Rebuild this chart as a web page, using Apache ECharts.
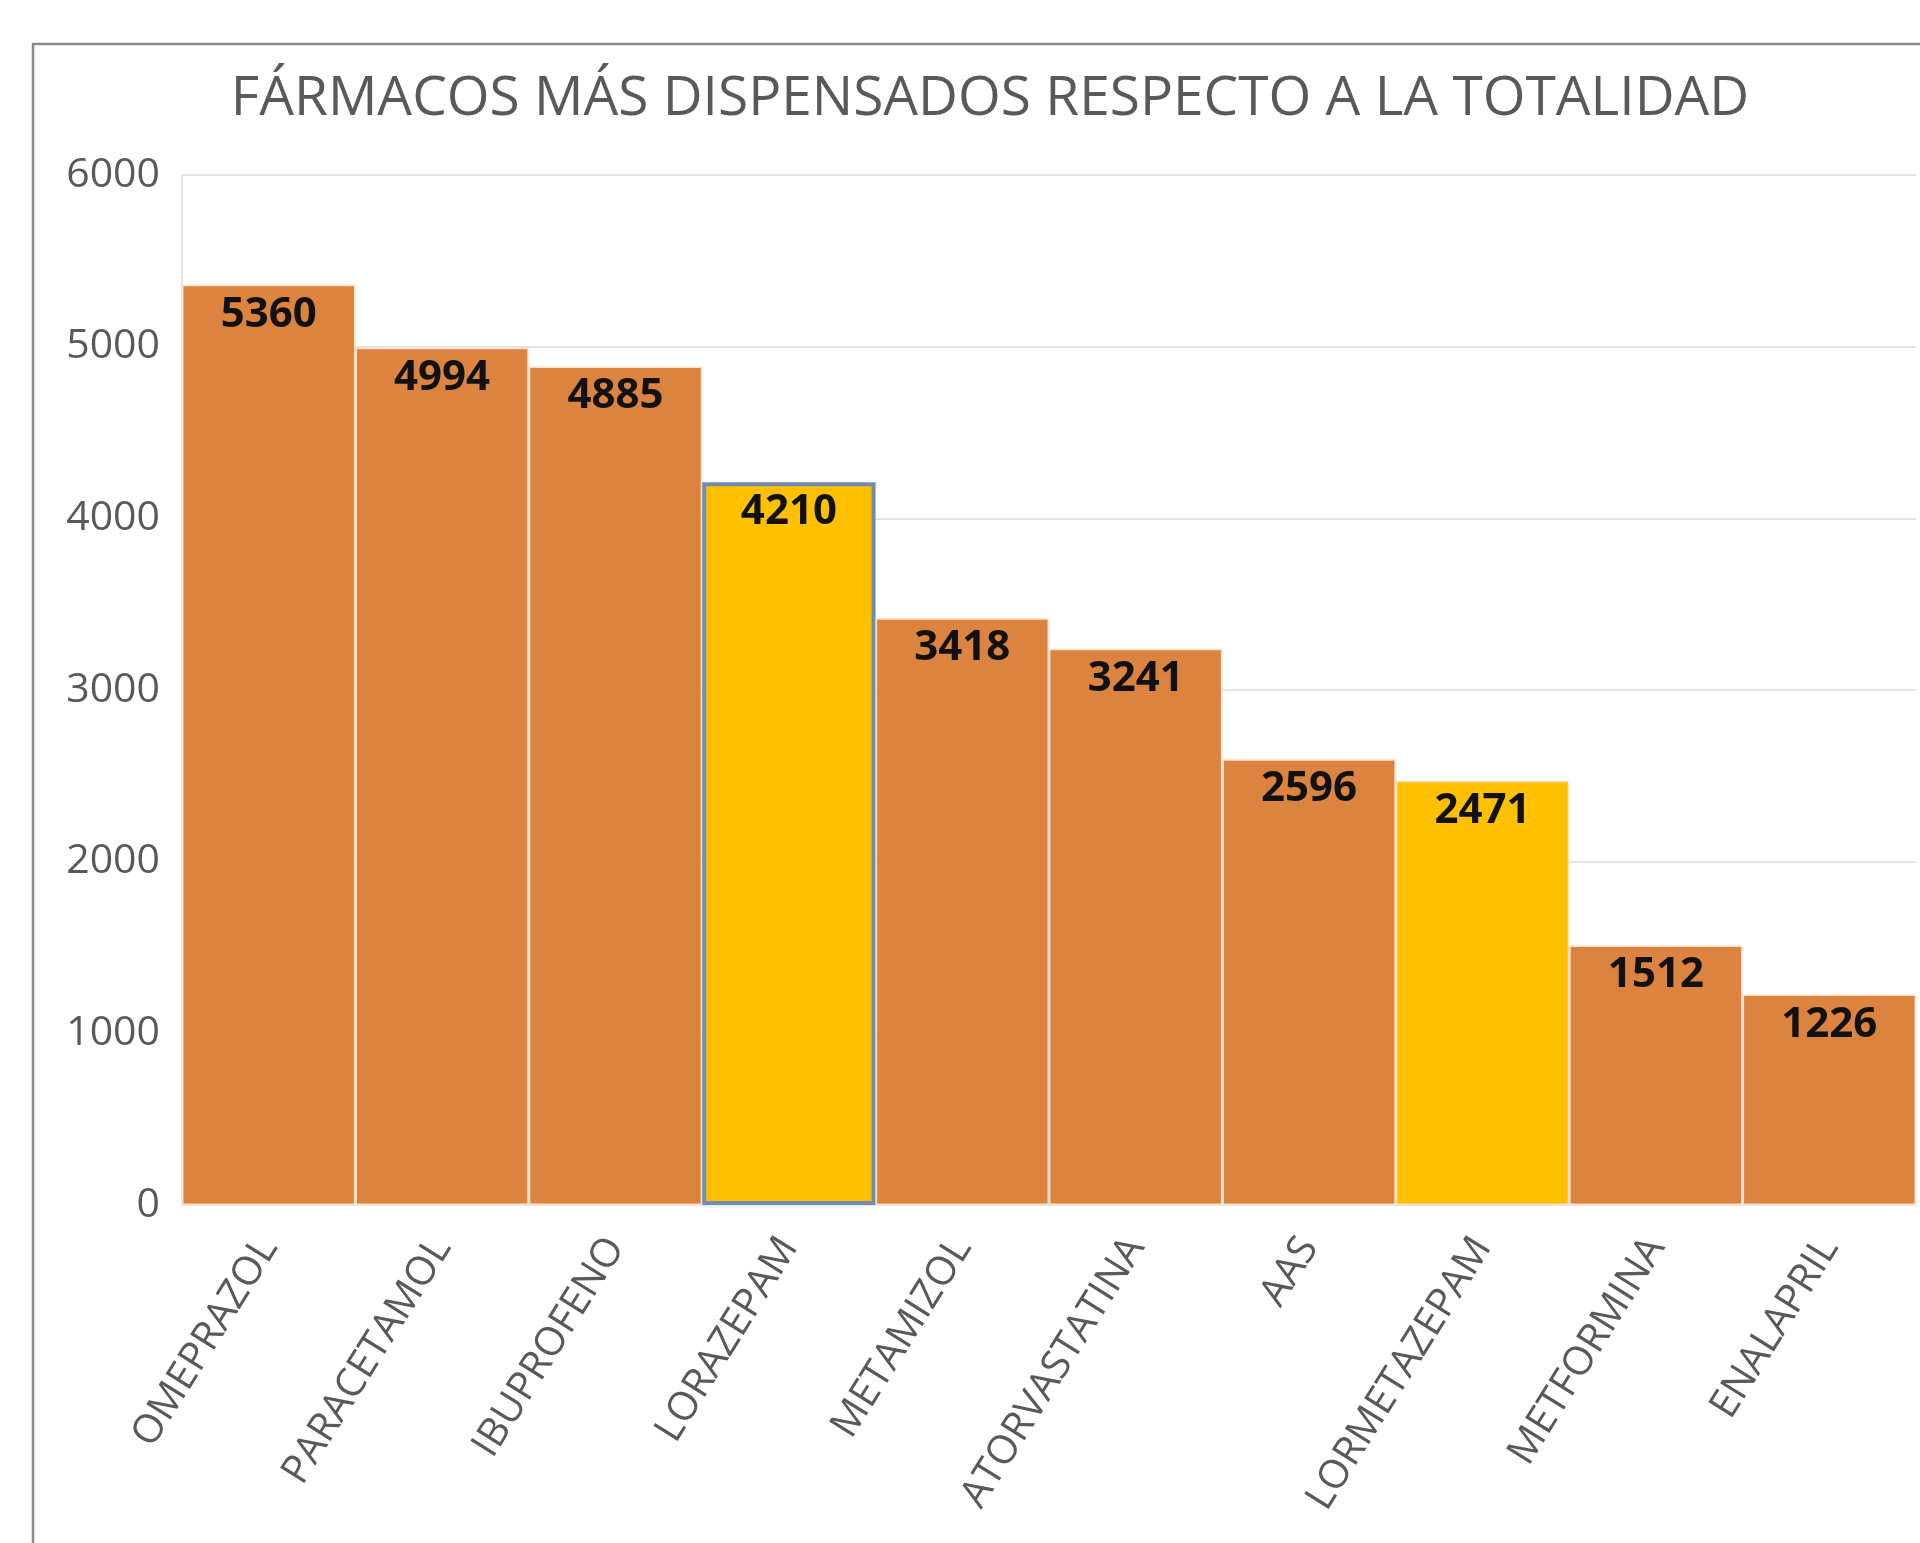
<!DOCTYPE html>
<html>
<head>
<meta charset="utf-8">
<script src="https://cdn.jsdelivr.net/npm/echarts@6/dist/echarts.min.js"></script>
<style>
html,body{margin:0;padding:0;background:#fff;}
#chart{width:1920px;height:1543px;}
</style>
</head>
<body>
<div id="chart"></div>
<script>
const titleText = 'FÁRMACOS MÁS DISPENSADOS RESPECTO A LA TOTALIDAD';
const categories = ['OMEPRAZOL','PARACETAMOL','IBUPROFENO','LORAZEPAM','METAMIZOL','ATORVASTATINA','AAS','LORMETAZEPAM','METFORMINA','ENALAPRIL'];
const values = [5360,4994,4885,4210,3418,3241,2596,2471,1512,1226];
const highlighted = ['LORAZEPAM','LORMETAZEPAM'];
const outlined = ['LORAZEPAM'];

const ORANGE = '#DC843F';
const YELLOW = '#FFC000';

const data = values.map((v, i) => {
  const name = categories[i];
  const hi = highlighted.includes(name);
  const out = outlined.includes(name);
  return {
    value: v,
    itemStyle: {
      color: hi ? YELLOW : ORANGE,
      borderColor: out ? '#6F8DB3' : '#FBE0CA',
      borderWidth: out ? 4 : 1.5
    }
  };
});

const chart = echarts.init(document.getElementById('chart'), null, {renderer: 'canvas'});
chart.setOption({
  backgroundColor: '#ffffff',
  animation: false,
  title: {
    text: titleText,
    left: 985,
    textAlign: 'center',
    top: 67,
    textStyle: {
      fontFamily: 'Open Sans',
      fontSize: 55,
      fontWeight: 'normal',
      color: '#595959'
    }
  },
  graphic: [{
    type: 'rect',
    z: -10,
    silent: true,
    shape: {x: 33, y: 44, width: 1920, height: 1600},
    style: {fill: 'none', stroke: '#8A8A8A', lineWidth: 2.5}
  }],
  grid: {left: 182, right: 4, top: 175, bottom: 338, containLabel: false},
  xAxis: {
    type: 'category',
    data: categories,
    axisTick: {show: false},
    axisLine: {show: true, lineStyle: {color: '#E6E6E6', width: 2}},
    axisLabel: {
      interval: 0,
      rotate: 58,
      margin: 36,
      fontFamily: 'Open Sans',
      fontSize: 40,
      color: '#595959'
    }
  },
  yAxis: {
    type: 'value',
    min: 0,
    max: 6000,
    interval: 1000,
    axisLine: {show: true, lineStyle: {color: '#E6E6E6', width: 2}},
    axisTick: {show: false},
    splitLine: {show: true, lineStyle: {color: '#E3E3E3', width: 2}},
    axisLabel: {
      margin: 22,
      fontFamily: 'Open Sans',
      fontSize: 41,
      color: '#595959',
      formatter: function (v) { return String(v); }
    }
  },
  series: [{
    type: 'bar',
    data: data,
    barCategoryGap: '0%',
    label: {
      show: true,
      position: 'insideTop',
      distance: 9,
      fontFamily: 'Open Sans',
      fontWeight: 'bold',
      fontSize: 42,
      color: '#111111'
    }
  }]
});
</script>
</body>
</html>
